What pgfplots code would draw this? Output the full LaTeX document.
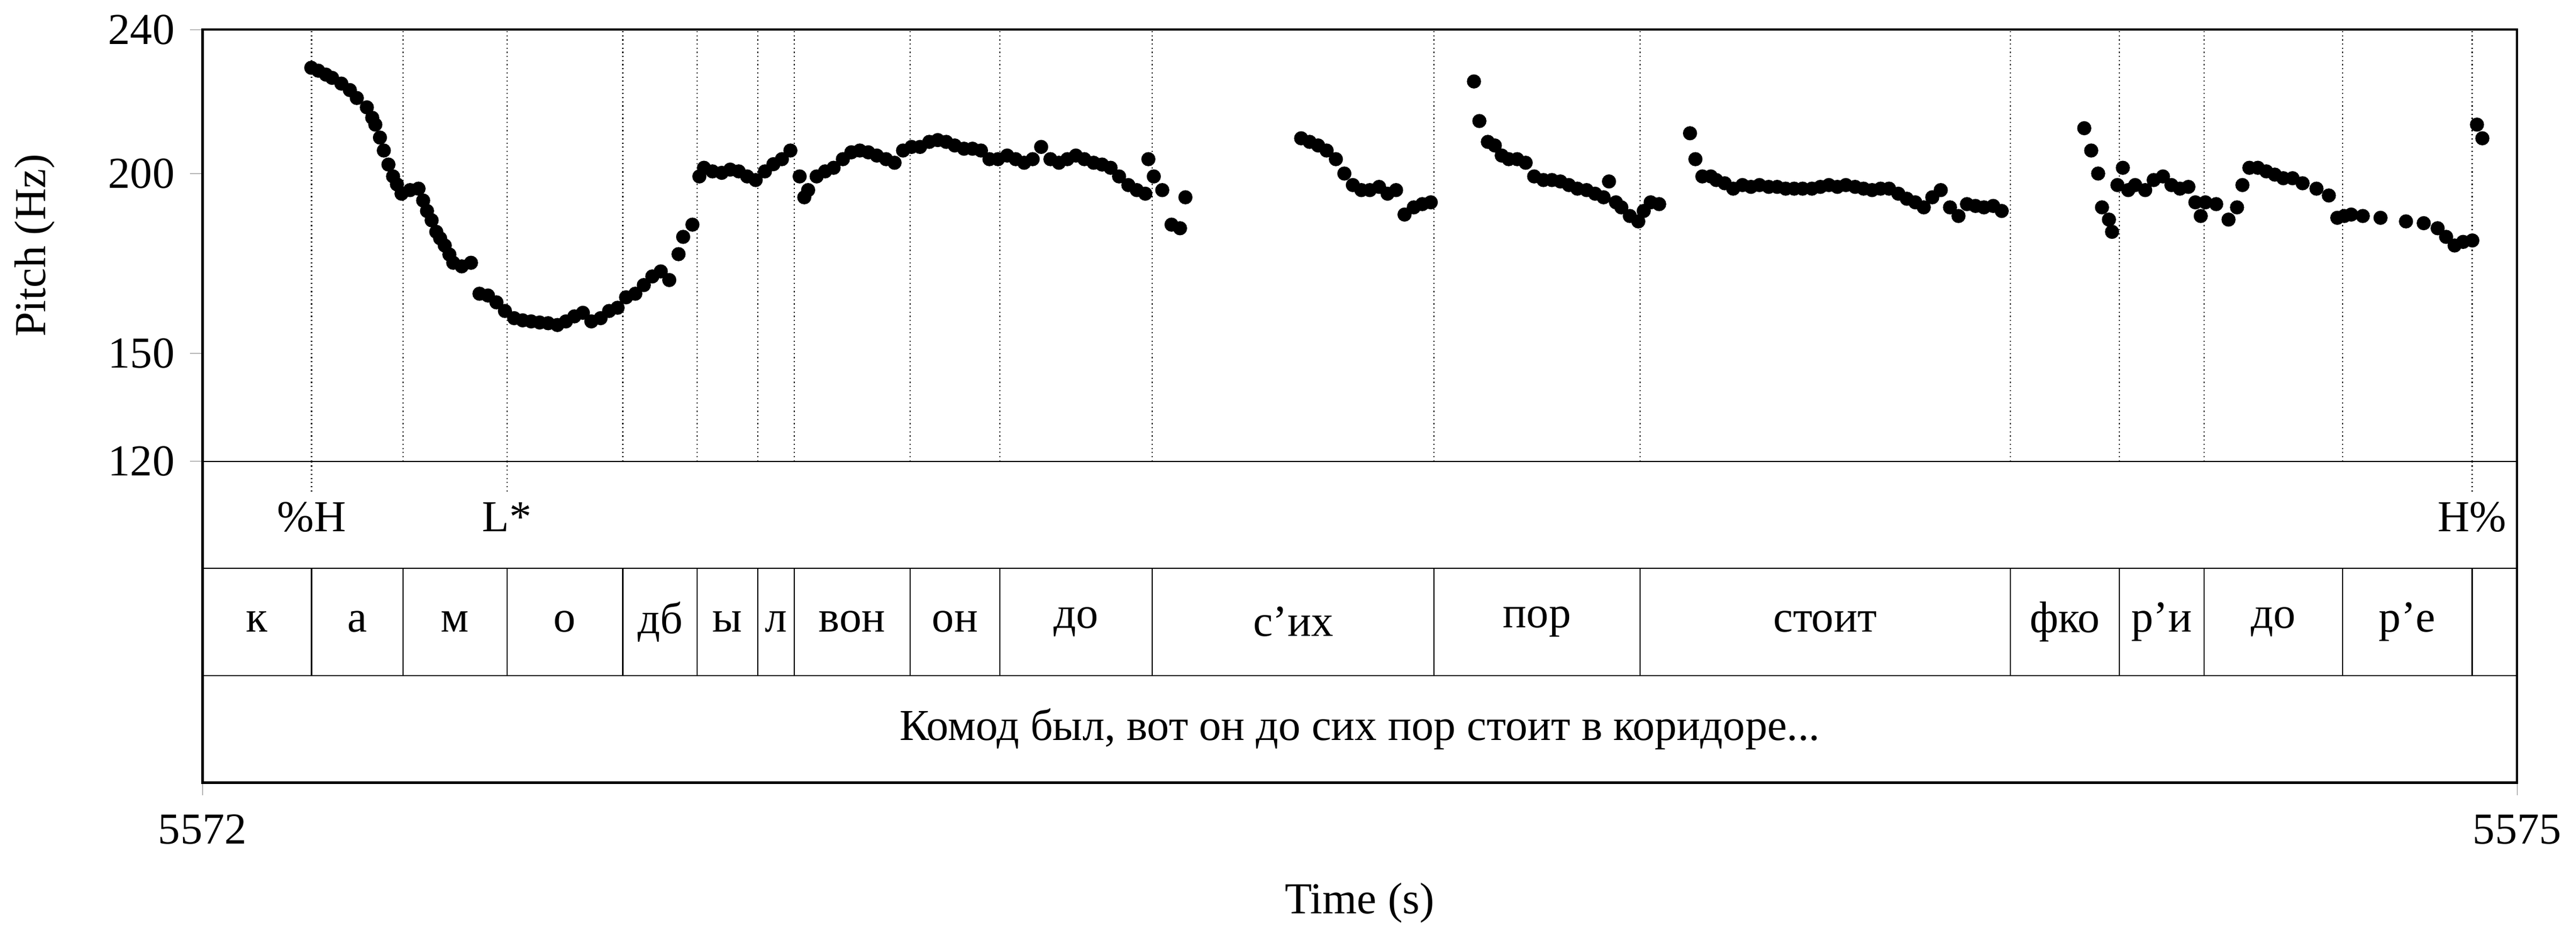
\documentclass[border=0pt]{standalone}
\usepackage{pgfplots}
\pgfplotsset{compat=1.18}
\usepackage{fontspec}
\setmainfont{Liberation Serif}
\begin{document}
\fontsize{15}{18}\selectfont
\begin{tikzpicture}
\begin{axis}[scale only axis, width=27.6cm, height=8.98cm,
  xmin=0, xmax=3, ymin=30.7, ymax=240,
  xtick={0,3}, xticklabels={5572,5575},
  ytick={120,150,200,240},
  tick align=outside, tick pos=left, major tick length=0.15cm,
  /pgf/number format/assume math mode=true,
  ticklabel style={font=\fontsize{15}{18}\selectfont},
  xticklabel style={yshift=-0.05cm},
  xlabel={Time (s)}, xlabel style={yshift=-0.1cm},
  clip=false, axis line style={line width=0.8pt}]
\draw (axis cs:0,120) -- (axis cs:3,120);
\draw (axis cs:0,90.24) -- (axis cs:3,90.24);
\draw (axis cs:0,60.48) -- (axis cs:3,60.48);
\pgfplotsinvokeforeach{0.1413,0.2601,0.3946,0.5448,0.6413,0.7197,0.7668,0.9170,1.0336,1.2309,1.5964,1.8632,2.3430,2.4843,2.5942,2.7735,2.9417}{
  \draw[densely dotted] (axis cs:#1,120) -- (axis cs:#1,240);
  \draw (axis cs:#1,90.24) -- (axis cs:#1,60.48);
}
\pgfplotsinvokeforeach{0.1413,0.3946,2.9417}{
  \draw[densely dotted] (axis cs:#1,120) -- (axis cs:#1,111);
}
\node at (axis cs:0.1413,104.5) {\%H};
\node at (axis cs:0.3946,104.5) {L*};
\node at (axis cs:2.9417,104.5) {H\%};
\node at (axis cs:0.0707,75.4) {к};
\node at (axis cs:0.2007,75.4) {а};
\node at (axis cs:0.3274,75.4) {м};
\node at (axis cs:0.4697,75.4) {о};
\node at (axis cs:0.5931,75.4) {дб};
\node at (axis cs:0.6805,75.4) {ы};
\node at (axis cs:0.7433,75.4) {л};
\node at (axis cs:0.8419,75.4) {вон};
\node at (axis cs:0.9753,75.4) {он};
\node at (axis cs:1.1323,75.4) {до};
\node at (axis cs:1.4137,75.4) {с’их};
\node at (axis cs:1.7298,75.4) {пор};
\node at (axis cs:2.1031,75.4) {стоит};
\node at (axis cs:2.4137,75.4) {фко};
\node at (axis cs:2.5393,75.4) {р’и};
\node at (axis cs:2.6839,75.4) {до};
\node at (axis cs:2.8576,75.4) {р’е};
\node at (axis cs:1.5,45.6) {Комод был, вот он до сих пор стоит в коридоре...};
\node[rotate=90] at ([xshift=-2.0cm]axis cs:0,180) {Pitch (Hz)};
\addplot[only marks, mark=*, mark size=2.2pt, black] coordinates {
(0.141,229.4)(0.150,228.6)(0.160,227.5)(0.168,226.6)(0.180,225)(0.191,223.2)(0.200,221)(0.213,218.4)(0.220,215.5)(0.224,213.6)(0.230,210)(0.235,206.4)(0.241,202.5)(0.247,199.2)(0.252,197)(0.258,194.4)(0.269,195.4)(0.280,195.8)(0.286,192.5)(0.291,189.6)(0.297,187)(0.303,183.8)(0.308,182)(0.314,180)(0.320,177.5)(0.325,175.2)(0.336,174.2)(0.348,175.2)(0.359,166.6)(0.370,166.1)(0.381,164.2)(0.392,161.8)(0.404,159.8)(0.415,159.2)(0.426,158.9)(0.437,158.6)(0.448,158.4)(0.460,157.9)(0.471,158.9)(0.482,160.3)(0.493,161.3)(0.504,158.9)(0.516,159.8)(0.527,161.8)(0.538,162.7)(0.549,165.6)(0.561,166.6)(0.572,169)(0.583,171.4)(0.594,172.8)(0.605,170.4)(0.617,177.6)(0.623,182.4)(0.635,185.8)(0.644,199.2)(0.650,201.6)(0.661,200.6)(0.673,200.2)(0.684,201.1)(0.695,200.6)(0.706,199.2)(0.717,198.2)(0.729,200.6)(0.740,202.6)(0.751,204)(0.762,206.4)
(0.774,199.2)(0.780,193.4)(0.785,195.4)(0.796,199.2)(0.807,200.6)(0.818,201.6)(0.830,204)(0.841,205.9)(0.852,206.4)(0.863,205.9)(0.874,205)(0.886,204)(0.897,203)(0.908,206.4)(0.919,207.4)(0.930,207.4)(0.942,208.8)(0.953,209.3)(0.964,208.8)(0.975,207.8)(0.987,206.9)(0.998,206.9)(1.009,206.4)(1.020,204)(1.031,204)(1.043,205)(1.054,204)(1.065,203)(1.076,204)(1.087,207.4)(1.099,204)(1.110,203)(1.121,204)(1.132,205)(1.143,204)(1.155,203)(1.166,202.5)(1.177,201.6)(1.188,199.2)(1.200,196.8)(1.211,195.4)(1.222,194.4)(1.226,204)(1.233,199.2)(1.244,195.4)(1.256,185.8)(1.267,184.8)(1.274,193.4)
(1.424,209.8)(1.435,208.8)(1.446,207.8)(1.457,206.4)(1.469,204)(1.480,200)(1.491,196.8)(1.502,195.4)(1.513,195.4)(1.525,196.3)(1.536,194.4)(1.547,195.4)(1.558,188.6)(1.570,190.6)(1.581,191.5)(1.592,192)
(1.648,225.6)(1.655,214.6)(1.666,208.8)(1.675,207.8)(1.684,205)(1.693,204)(1.704,204)(1.715,203)(1.726,199.2)(1.738,198.2)(1.749,198.2)(1.760,197.8)(1.771,196.8)(1.782,195.8)(1.794,195.4)(1.805,194.4)(1.816,193.4)(1.823,197.8)(1.832,192)(1.839,190.6)(1.850,188.2)(1.861,186.7)(1.868,189.6)(1.877,192)(1.888,191.5)
(1.928,211.2)(1.935,204)(1.944,199.2)(1.955,199.2)(1.962,198.2)(1.973,197.3)(1.984,195.8)(1.996,196.8)(2.007,196.3)(2.018,196.8)(2.030,196.3)(2.041,196.3)(2.052,195.8)(2.063,195.8)(2.074,195.8)(2.086,195.8)(2.097,196.3)(2.108,196.8)(2.119,196.3)(2.130,196.8)(2.142,196.3)(2.153,195.8)(2.164,195.4)(2.175,195.8)(2.186,195.8)(2.198,194.4)(2.209,193)(2.220,192)(2.231,190.6)(2.242,193.4)(2.253,195.4)(2.265,190.6)(2.276,188.2)(2.287,191.5)(2.298,191)(2.309,190.6)(2.321,191)(2.332,189.6)
(2.439,212.6)(2.448,206.4)(2.457,200)(2.462,190.6)(2.471,187.2)(2.475,183.8)(2.482,196.8)(2.489,201.6)(2.496,195.4)(2.505,196.8)(2.518,195.4)(2.529,198.2)(2.541,199.2)(2.552,196.8)(2.563,195.8)(2.574,196.3)(2.583,192)(2.590,188.2)(2.596,192)(2.610,191.5)(2.626,187.2)(2.637,190.6)(2.644,196.8)(2.653,201.6)(2.664,201.6)(2.675,200.6)(2.686,199.7)(2.697,198.7)(2.709,198.7)(2.722,197.3)(2.740,195.8)(2.756,193.9)(2.767,187.7)(2.776,188.2)(2.785,188.6)(2.800,188.2)(2.823,187.7)(2.856,186.7)(2.879,186.2)(2.897,184.8)(2.908,182.4)(2.919,180)(2.930,181)(2.942,181.4)(2.948,213.6)(2.955,209.8)
};
\end{axis}
\end{tikzpicture}
\end{document}
